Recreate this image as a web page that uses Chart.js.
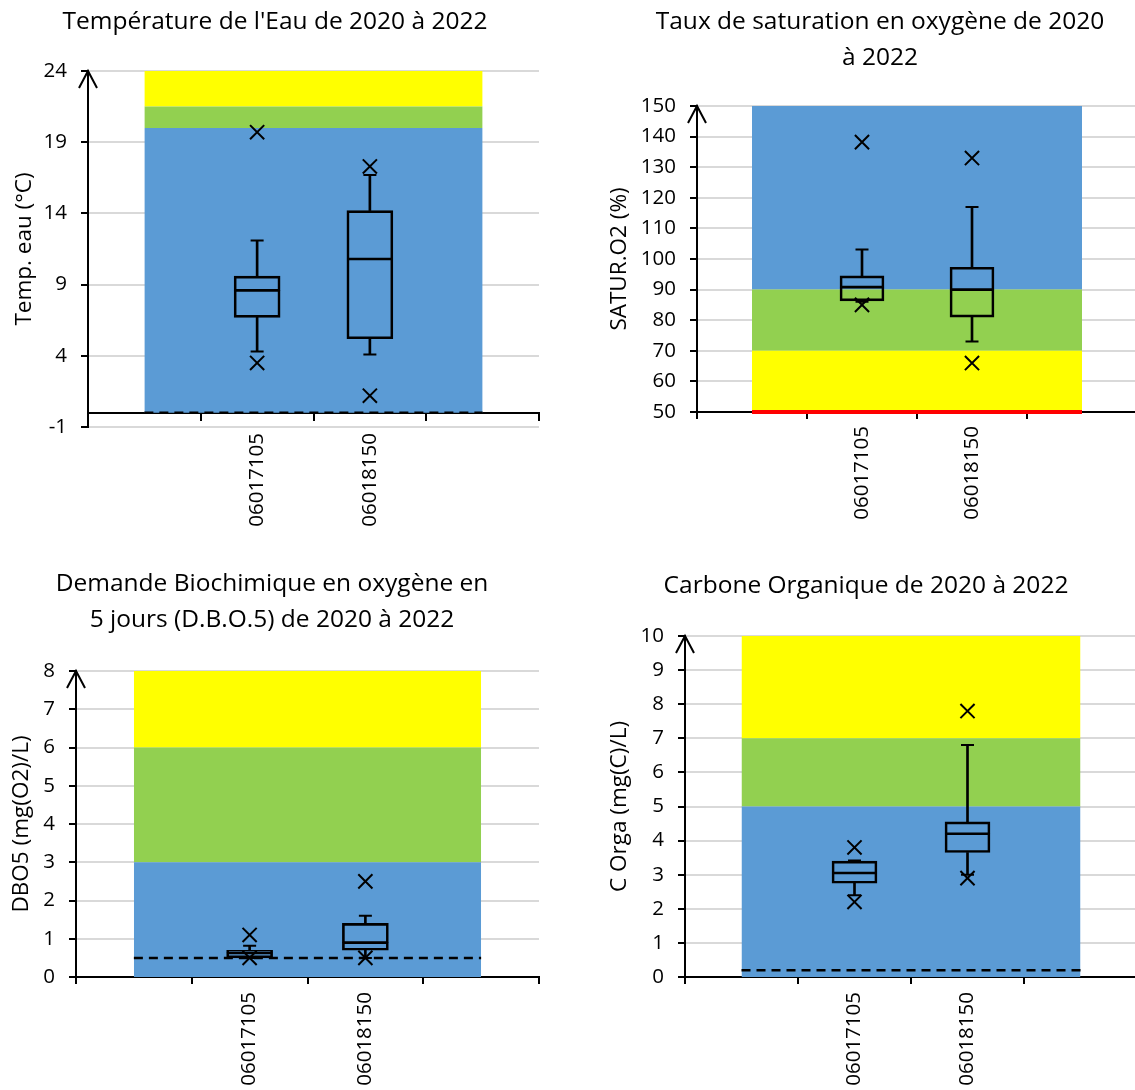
<!DOCTYPE html>
<html lang="fr">
<head>
<meta charset="utf-8">
<title>Qualité physico-chimique 2020-2022</title>
<script src="https://cdn.jsdelivr.net/npm/chart.js@4.4.1/dist/chart.umd.min.js"></script>
<style>
  html, body { margin: 0; padding: 0; background: #fff; }
  #page { position: relative; width: 1135px; height: 1090px; overflow: hidden; }
  #page canvas { position: absolute; }
</style>
</head>
<body>
<div id="page">
  <canvas id="cTemp"></canvas>
  <canvas id="cSat"></canvas>
  <canvas id="cDbo"></canvas>
  <canvas id="cCot"></canvas>
</div>
<script>
// ---- Stations (empty slots pad the category axis on both sides) ----
const stations = ['', '06017105', '06018150', ''];

// ---- Température de l'eau (°C) ----
const tempMin    = [3.5, 1.2];
const tempP10    = [4.3, 4.1];
const tempQ1     = [6.7, 5.2];
const tempMedian = [8.6, 10.8];
const tempQ3     = [9.6, 14.2];
const tempP90    = [12.1, 16.7];
const tempMax    = [19.7, 17.3];
const tempClassTops = [20, 21.5, 24];
const tempTicks  = [-1, 4, 9, 14, 19, 24];
const tempLimit  = 0;

// ---- Taux de saturation en oxygène (%) ----
const satMin    = [85, 66];
const satP10    = [86, 73];
const satQ1     = [86.3, 81];
const satMedian = [90.8, 90];
const satQ3     = [94.5, 97.3];
const satP90    = [103.1, 117];
const satMax    = [138.2, 133];
const satClassTops = [70, 90, 150];
const satTicks  = [50, 60, 70, 80, 90, 100, 110, 120, 130, 140, 150];
const satLimit  = 50;

// ---- DBO5 (mg(O2)/L) ----
const dboMin    = [0.5, 0.5];
const dboP10    = [0.5, 0.5];
const dboQ1     = [0.5, 0.7];
const dboMedian = [0.63, 0.9];
const dboQ3     = [0.7, 1.4];
const dboP90    = [0.82, 1.6];
const dboMax    = [1.1, 2.5];
const dboClassTops = [3, 6, 8];
const dboTicks  = [0, 1, 2, 3, 4, 5, 6, 7, 8];
const dboLimit  = 0.5;

// ---- Carbone organique (mg(C)/L) ----
const cotMin    = [2.2, 2.9];
const cotP10    = [2.4, 3.0];
const cotQ1     = [2.75, 3.65];
const cotMedian = [3.05, 4.2];
const cotQ3     = [3.4, 4.55];
const cotP90    = [3.42, 6.8];
const cotMax    = [3.8, 7.8];
const cotClassTops = [5, 7, 10];
const cotTicks  = [0, 1, 2, 3, 4, 5, 6, 7, 8, 9, 10];
const cotLimit  = 0.2;

// ---- Styling ----
const BLUE = '#5B9BD5', GREEN = '#92D050', YELLOW = '#FFFF00', RED = '#FF0000';
const INK = '#000000';
const FONT = "'Open Sans', sans-serif";

const withEnds = arr => [null, ...arr, null];
const across = v => stations.map(() => v);

// open arrow head at the top of the value axis
const axisArrow = {
  id: 'axisArrow',
  afterDraw(chart) {
    const x = chart.scales.y.right;
    const top = chart.chartArea.top;
    const ctx = chart.ctx;
    ctx.save();
    ctx.strokeStyle = INK;
    ctx.lineWidth = 2;
    ctx.beginPath();
    ctx.moveTo(x - 9, top + 17);
    ctx.lineTo(x, top);
    ctx.lineTo(x + 9, top + 17);
    ctx.stroke();
    ctx.restore();
  }
};

function boxPlot(id, g, s) {
  const canvas = document.getElementById(id);
  canvas.width = g.w;
  canvas.height = g.h;
  canvas.style.left = g.x + 'px';
  canvas.style.top = g.y + 'px';

  const datasets = [];
  // quality class bands
  s.classTops.forEach((top, j) => datasets.push({
    type: 'line', data: across(top), fill: j === 0 ? 'origin' : '-1',
    backgroundColor: s.classColors[j], borderWidth: 0, pointRadius: 0, order: 10
  }));
  // quantification limit
  datasets.push({
    type: 'line', data: across(s.limit), fill: false, clip: false,
    borderColor: s.limitColor, borderWidth: s.limitWidth, borderDash: s.limitDash,
    pointRadius: 0, order: 5
  });
  // whiskers
  datasets.push({
    type: 'bar', data: withEnds(s.p10.map((v, i) => [v, s.q1[i]])),
    backgroundColor: INK, barThickness: 2, grouped: false, order: 4
  });
  datasets.push({
    type: 'bar', data: withEnds(s.q3.map((v, i) => [v, s.p90[i]])),
    backgroundColor: INK, barThickness: 2, grouped: false, order: 4
  });
  // boxes split at the median
  datasets.push({
    type: 'bar', data: withEnds(s.q1.map((v, i) => [v, s.median[i]])),
    backgroundColor: 'rgba(0,0,0,0)', borderColor: INK,
    borderWidth: { top: 1, bottom: 2, left: 2, right: 2 }, borderSkipped: false,
    barThickness: g.boxWidth, grouped: false, order: 3
  });
  datasets.push({
    type: 'bar', data: withEnds(s.median.map((v, i) => [v, s.q3[i]])),
    backgroundColor: 'rgba(0,0,0,0)', borderColor: INK,
    borderWidth: { top: 2, bottom: 1, left: 2, right: 2 }, borderSkipped: false,
    barThickness: g.boxWidth, grouped: false, order: 3
  });
  // whisker caps
  [s.p10, s.p90].forEach(arr => datasets.push({
    type: 'line', data: withEnds(arr), showLine: false,
    pointStyle: 'line', pointRadius: 6.5, pointBorderWidth: 2, pointBorderColor: INK, order: 2
  }));
  // extremes
  [s.min, s.max].forEach(arr => datasets.push({
    type: 'line', data: withEnds(arr), showLine: false,
    pointStyle: 'crossRot', pointRadius: 10, pointBorderWidth: 2,
    pointBorderColor: INK, pointBackgroundColor: 'rgba(0,0,0,0)', order: 1
  }));

  const tickFont = { family: FONT, size: 20.5 };
  const fitCategory = h => sc => { sc.height = h; sc.paddingLeft = 0; sc.paddingRight = 0; };
  const scales = {
    x: {
      type: 'category', position: 'bottom', offset: true, z: 1,
      grid: { display: !g.axisAtZero, drawTicks: !g.axisAtZero, drawOnChartArea: false,
              tickLength: 7, color: INK, lineWidth: 2, offset: true },
      border: { display: !g.axisAtZero, color: INK, width: 2 },
      ticks: { autoSkip: false, minRotation: 90, maxRotation: 90, padding: g.labelPad,
               color: INK, font: tickFont },
      afterFit: fitCategory(g.xHeight)
    },
    y: {
      type: 'linear', position: 'left', min: s.ticks[0], max: s.ticks[s.ticks.length - 1],
      afterBuildTicks: sc => { sc.ticks = s.ticks.map(v => ({ value: v })); },
      grid: { color: '#D9D9D9', lineWidth: 2, tickColor: INK, tickLength: 7, tickWidth: 2 },
      border: { color: INK, width: 2 },
      ticks: { padding: 14, color: INK, font: tickFont },
      title: { display: true, text: s.yTitle, color: INK,
               font: { family: FONT, size: 22.5, lineHeight: 1.2 },
               padding: { top: g.yTitlePad, bottom: 0 } },
      afterFit: sc => { sc.width = g.yWidth; }
    },
    spacer: {
      type: 'linear', position: 'right', display: true,
      grid: { display: false }, border: { display: false }, ticks: { display: false },
      afterFit: sc => { sc.width = g.spacer; }
    }
  };
  if (g.axisAtZero) {
    // category axis line drawn where the value axis crosses 0
    scales.x0 = {
      type: 'category', position: { y: 0 }, offset: true,
      grid: { drawOnChartArea: false, tickLength: 7, color: INK, lineWidth: 2, offset: true },
      border: { color: INK, width: 2 },
      ticks: { display: false },
      afterFit: fitCategory(0)
    };
  }

  return new Chart(canvas, {
    type: 'bar',
    data: { labels: stations, datasets },
    options: {
      responsive: false, animation: false, devicePixelRatio: 1, events: [],
      layout: { padding: 0, autoPadding: false },
      plugins: {
        legend: { display: false },
        tooltip: { enabled: false },
        title: {
          display: true, text: s.title, color: INK,
          font: { family: FONT, size: 24.5, weight: 'normal', lineHeight: 1.47 },
          padding: { top: g.titleTop, bottom: g.titleBottom }
        }
      },
      scales
    },
    plugins: [axisArrow]
  });
}

const titleLine = 24.5 * 1.47;
const yTitleHalf = 22.5 * 1.2 / 2;

boxPlot('cTemp',
  { x: 0, y: 0, w: 550, h: 545, yWidth: 88, spacer: 11, xHeight: 118,
    titleTop: 22 - titleLine / 2, titleBottom: 71 - 22 - titleLine / 2,
    yTitlePad: 25 - yTitleHalf, labelPad: 6, boxWidth: 46, axisAtZero: true },
  { title: "Température de l'Eau de 2020 à 2022", yTitle: 'Temp. eau (°C)',
    min: tempMin, p10: tempP10, q1: tempQ1, median: tempMedian, q3: tempQ3, p90: tempP90, max: tempMax,
    classTops: tempClassTops, classColors: [BLUE, GREEN, YELLOW], ticks: tempTicks,
    limit: tempLimit, limitColor: INK, limitWidth: 2.5, limitDash: [9, 6] });

boxPlot('cSat',
  { x: 600, y: 0, w: 560, h: 545, yWidth: 97, spacer: 23, xHeight: 133,
    titleTop: 22 - titleLine / 2, titleBottom: 106 - 22 - titleLine * 1.5,
    yTitlePad: 20 - yTitleHalf, labelPad: 7, boxWidth: 44 },
  { title: ['Taux de saturation en oxygène de 2020', 'à 2022'], yTitle: 'SATUR.O2 (%)',
    min: satMin, p10: satP10, q1: satQ1, median: satMedian, q3: satQ3, p90: satP90, max: satMax,
    classTops: satClassTops, classColors: [YELLOW, GREEN, BLUE], ticks: satTicks,
    limit: satLimit, limitColor: RED, limitWidth: 4, limitDash: [] });

boxPlot('cDbo',
  { x: 0, y: 545, w: 544, h: 545, yWidth: 76, spacer: 5, xHeight: 113,
    titleTop: 39 - titleLine / 2, titleBottom: 126 - 39 - titleLine * 1.5,
    yTitlePad: 22 - yTitleHalf, labelPad: 8, boxWidth: 46 },
  { title: ['Demande Biochimique en oxygène en', '5 jours (D.B.O.5) de 2020 à 2022'], yTitle: 'DBO5 (mg(O2)/L)',
    min: dboMin, p10: dboP10, q1: dboQ1, median: dboMedian, q3: dboQ3, p90: dboP90, max: dboMax,
    classTops: dboClassTops, classColors: [BLUE, GREEN, YELLOW], ticks: dboTicks,
    limit: dboLimit, limitColor: INK, limitWidth: 2.5, limitDash: [9, 6] });

boxPlot('cCot',
  { x: 590, y: 545, w: 552, h: 545, yWidth: 95, spacer: 5, xHeight: 113,
    titleTop: 41 - titleLine / 2, titleBottom: 91 - 41 - titleLine / 2,
    yTitlePad: 30 - yTitleHalf, labelPad: 8, boxWidth: 45 },
  { title: 'Carbone Organique de 2020 à 2022', yTitle: 'C Orga (mg(C)/L)',
    min: cotMin, p10: cotP10, q1: cotQ1, median: cotMedian, q3: cotQ3, p90: cotP90, max: cotMax,
    classTops: cotClassTops, classColors: [BLUE, GREEN, YELLOW], ticks: cotTicks,
    limit: cotLimit, limitColor: INK, limitWidth: 2.5, limitDash: [9, 6] });
</script>
</body>
</html>
